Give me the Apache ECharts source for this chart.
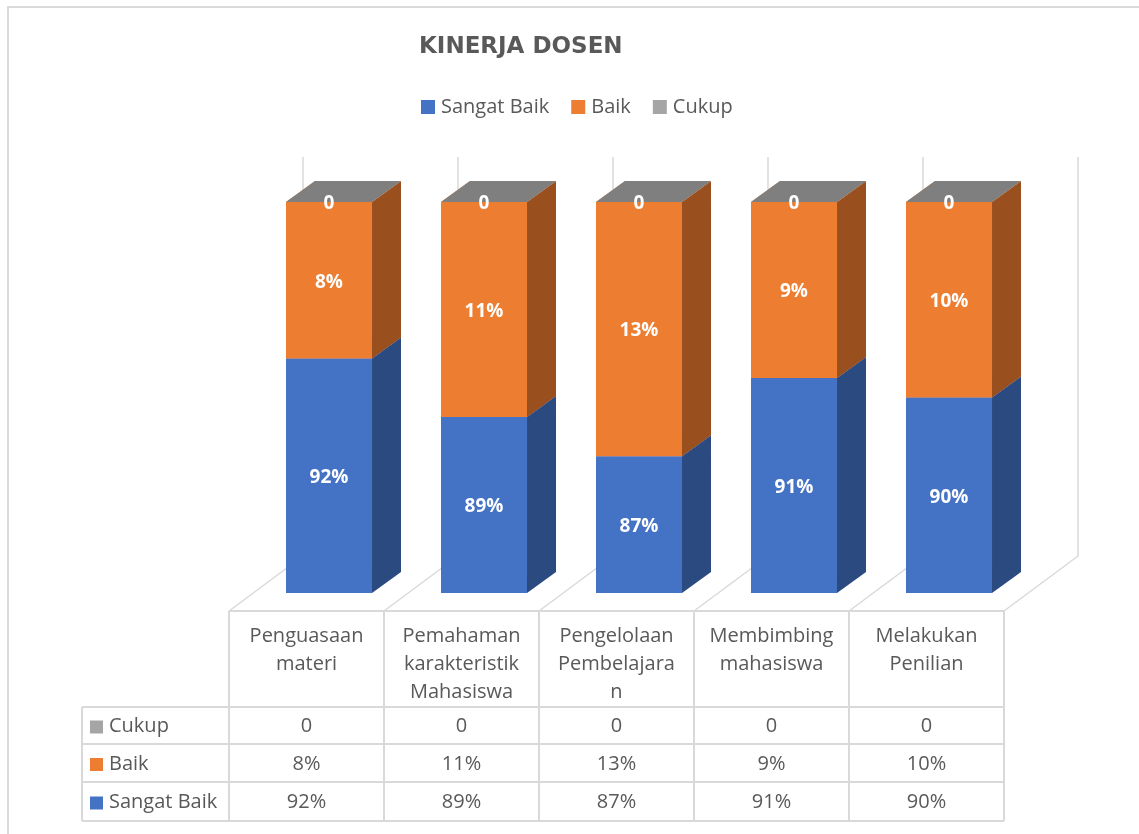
<!DOCTYPE html>
<html>
<head>
<meta charset="utf-8">
<script src="https://cdn.jsdelivr.net/npm/echarts@6/dist/echarts.min.js"></script>
<style>
html, body { margin: 0; padding: 0; background: #fff; }
#main { width: 1139px; height: 834px; }
</style>
</head>
<body>
<div id="main"></div>
<script>
// data
var categories = ['Penguasaan\nmateri', 'Pemahaman\nkarakteristik\nMahasiswa', 'Pengelolaan\nPembelajara\nn', 'Membimbing\nmahasiswa', 'Melakukan\nPenilian'];
var seriesNames = ['Sangat Baik', 'Baik', 'Cukup'];
var sangatBaik = [0.92, 0.89, 0.87, 0.91, 0.90];
var baik = [0.08, 0.11, 0.13, 0.09, 0.10];
var cukup = [0, 0, 0, 0, 0];

var yMin = 0.8, yMax = 1;
var front = ['#4472C4', '#ED7D31', '#A5A5A5'];
var side = ['#2B4A7F', '#9A4F1F', '#7F7F7F'];
var topc = ['#4472C4', '#ED7D31', '#7F7F7F'];
var dx = 29, dy = -21;
var font = '"Open Sans", "Noto Sans", sans-serif';
var txt = '#595959', lineC = '#D9D9D9';

function fmt(v) { return v === 0 ? '0' : Math.round(v * 100) + '%'; }

var stacks = [sangatBaik, baik, cukup];

function makeData(k) {
  return categories.map(function (c, i) {
    var base = 0;
    for (var j = 0; j < k; j++) base += stacks[j][i];
    return [i, base, base + stacks[k][i], stacks[k][i]];
  });
}

function renderBar(k) {
  return function (params, api) {
    var x = api.value(0);
    var lo = Math.max(api.value(1), yMin);
    var hi = api.value(2);
    var pLo = api.coord([x, lo]);
    var pHi = api.coord([x, hi]);
    var bw = api.size([1, 0])[0] * 0.555;
    var l = pLo[0] - bw / 2, r = pLo[0] + bw / 2, yb = pLo[1], yt = pHi[1];
    var children = [];
    if (yb - yt > 0) {
      children.push({ type: 'rect', shape: { x: l, y: yt, width: bw, height: yb - yt }, style: { fill: front[k] } });
      children.push({ type: 'polygon', shape: { points: [[r, yb], [r + dx, yb + dy], [r + dx, yt + dy], [r, yt]] }, style: { fill: side[k] } });
    }
    children.push({ type: 'polygon', shape: { points: [[l, yt], [l + dx, yt + dy], [r + dx, yt + dy], [r, yt]] }, style: { fill: topc[k] } });
    children.push({
      type: 'text', z2: 10,
      style: {
        x: pLo[0], y: (yb + yt) / 2 + 2, text: fmt(api.value(3)),
        fill: '#fff', font: 'bold 19px ' + font, align: 'center', verticalAlign: 'middle'
      }
    });
    return { type: 'group', children: children };
  };
}

// layout of the floor / table (decoration)
var colLeft = 229, colW = 155, nCol = categories.length;
var floorY = 611, backDx = 74, backDy = -55, wallTop = 157;
var rowLines = [707, 744, 782, 821];
var tableLeft = 82;

var g = [];
function line(x1, y1, x2, y2, w) {
  g.push({ type: 'line', shape: { x1: x1, y1: y1, x2: x2, y2: y2 }, style: { stroke: lineC, lineWidth: w || 2 } });
}
// outer border
g.push({ type: 'polyline', shape: { points: [[8, 834], [8, 7], [1139, 7]] }, style: { stroke: lineC, lineWidth: 2, fill: null } });
for (var k = 0; k <= nCol; k++) {
  var fx = colLeft + colW * k;
  line(fx + backDx, wallTop, fx + backDx, floorY + backDy, 1.5);
  line(fx, floorY, fx + backDx, floorY + backDy, 1.5);
  line(fx, floorY, fx, rowLines[rowLines.length - 1]);
}
line(colLeft, floorY, colLeft + colW * nCol, floorY);
rowLines.forEach(function (y) { line(tableLeft, y, colLeft + colW * nCol, y); });
line(tableLeft, rowLines[0], tableLeft, rowLines[rowLines.length - 1]);

categories.forEach(function (c, i) {
  g.push({ type: 'text', style: { x: colLeft + colW * i + colW / 2, y: 622, text: c, fill: txt, font: '20px ' + font, lineHeight: 28, align: 'center', verticalAlign: 'top' } });
});
// table rows: Cukup, Baik, Sangat Baik
[2, 1, 0].forEach(function (s, r) {
  var cy = (rowLines[r] + rowLines[r + 1]) / 2 + 1;
  g.push({ type: 'rect', shape: { x: 90, y: cy - 6, width: 13, height: 13 }, style: { fill: front[s] } });
  g.push({ type: 'text', style: { x: 109, y: cy, text: seriesNames[s], fill: txt, font: '20px ' + font, verticalAlign: 'middle' } });
  stacks[s].forEach(function (v, i) {
    g.push({ type: 'text', style: { x: colLeft + colW * i + colW / 2, y: cy, text: fmt(v), fill: txt, font: '20px ' + font, align: 'center', verticalAlign: 'middle' } });
  });
});

var myChart = echarts.init(document.getElementById('main'));
var option = {
  animation: false,
  title: {
    text: 'KINERJA DOSEN', left: 414, top: 31,
    textStyle: { fontFamily: '"DejaVu Sans", sans-serif', fontWeight: 'bold', fontSize: 23, color: txt }
  },
  legend: {
    data: seriesNames, left: 421, top: 97, padding: 0, icon: 'rect', itemWidth: 14, itemHeight: 14, itemGap: 22,
    textStyle: { fontFamily: font, fontSize: 20, color: txt, padding: [0, 0, 0, 1] }
  },
  grid: { left: 251.5, right: 112.5, top: 202, bottom: 241 },
  xAxis: { type: 'category', data: categories, show: false },
  yAxis: { type: 'value', min: yMin, max: yMax, show: false },
  graphic: g,
  series: seriesNames.map(function (name, k) {
    return {
      name: name, type: 'custom', renderItem: renderBar(k),
      itemStyle: { color: front[k] },
      encode: { x: 0, y: [1, 2] },
      data: makeData(k)
    };
  })
};
myChart.setOption(option);
</script>
</body>
</html>
